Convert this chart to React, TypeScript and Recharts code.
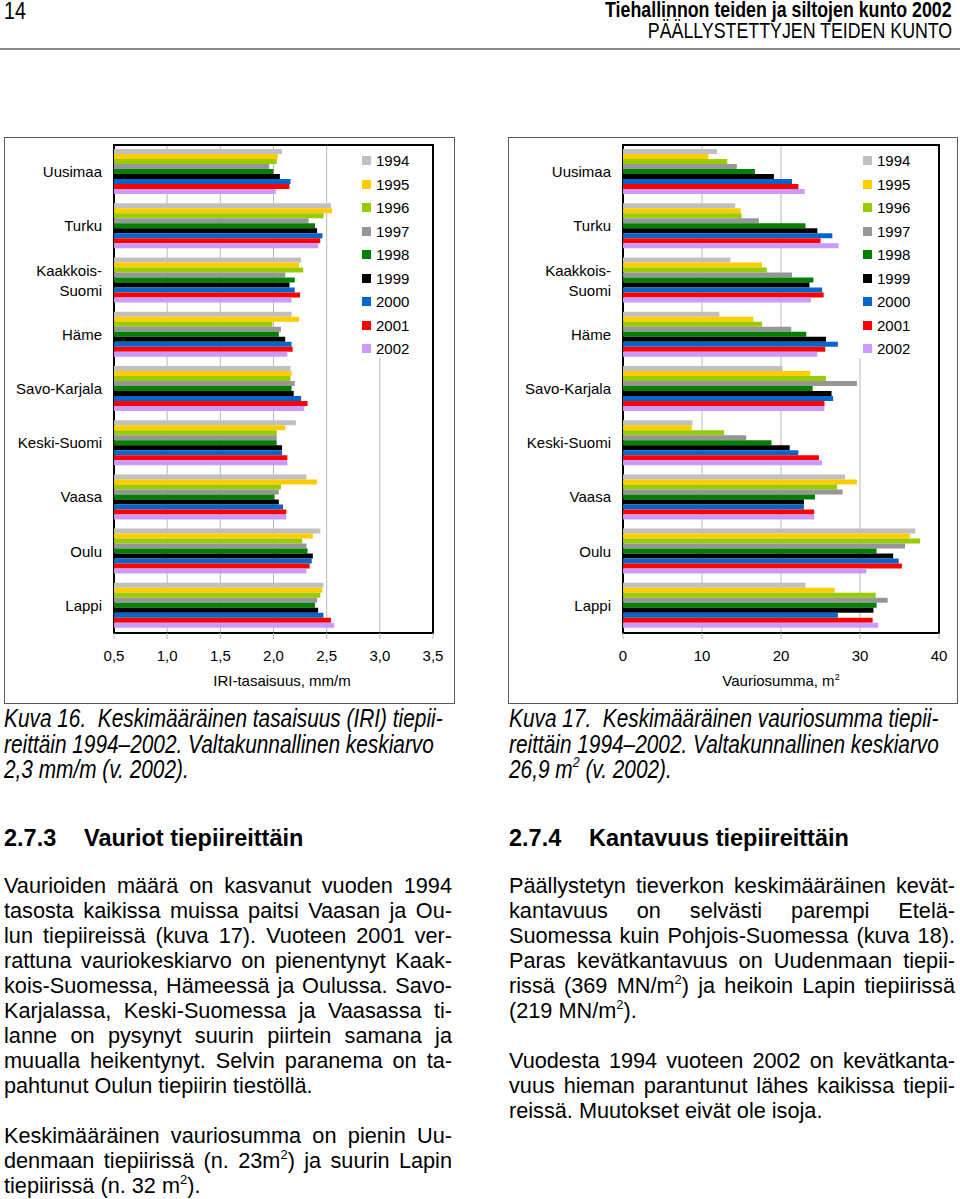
import React from 'react';
import { BarChart, Bar, XAxis, YAxis, CartesianGrid, ReferenceArea, Legend } from 'recharts';

// ---------- data ----------
const districts = ['Uusimaa', 'Turku', 'Kaakkois-\nSuomi', 'Häme', 'Savo-Karjala', 'Keski-Suomi', 'Vaasa', 'Oulu', 'Lappi'];
const years = ['1994', '1995', '1996', '1997', '1998', '1999', '2000', '2001', '2002'];
const yearColors = ['#c0c0c0', '#ffcc00', '#99cc00', '#969696', '#008000', '#000000', '#0066cc', '#ff0000', '#cc99ff'];

// IRI (mm/m), district order as above
const iri1994 = [2.08, 2.54, 2.26, 2.17, 2.16, 2.21, 2.31, 2.44, 2.47];
const iri1995 = [2.04, 2.55, 2.24, 2.24, 2.17, 2.11, 2.41, 2.37, 2.46];
const iri1996 = [2.03, 2.47, 2.28, 1.99, 2.16, 2.03, 2.07, 2.27, 2.44];
const iri1997 = [1.96, 2.33, 2.11, 2.07, 2.20, 2.03, 2.05, 2.31, 2.41];
const iri1998 = [2.00, 2.39, 2.20, 2.05, 2.17, 2.03, 2.01, 2.32, 2.39];
const iri1999 = [2.06, 2.41, 2.15, 2.11, 2.19, 2.08, 2.05, 2.37, 2.42];
const iri2000 = [2.16, 2.46, 2.20, 2.17, 2.26, 2.08, 2.09, 2.36, 2.47];
const iri2001 = [2.15, 2.44, 2.25, 2.18, 2.32, 2.13, 2.12, 2.34, 2.54];
const iri2002 = [2.02, 2.42, 2.17, 2.13, 2.29, 2.13, 2.12, 2.31, 2.57];

// Vauriosumma (m2)
const dmg1994 = [11.9, 14.2, 13.6, 12.2, 20.2, 8.8, 28.1, 37.0, 23.1];
const dmg1995 = [10.8, 14.9, 17.6, 16.5, 23.7, 8.7, 29.6, 36.3, 26.8];
const dmg1996 = [13.2, 15.0, 18.2, 17.6, 25.7, 12.8, 27.1, 37.6, 32.0];
const dmg1997 = [14.4, 17.2, 21.4, 21.3, 29.6, 15.6, 27.8, 35.7, 33.5];
const dmg1998 = [16.7, 23.1, 24.1, 23.2, 24.0, 18.8, 24.3, 32.1, 32.1];
const dmg1999 = [19.1, 24.6, 23.6, 25.7, 26.4, 21.1, 22.9, 34.2, 31.7];
const dmg2000 = [21.4, 26.5, 25.2, 27.2, 26.6, 22.2, 22.9, 34.9, 27.2];
const dmg2001 = [22.2, 25.0, 25.4, 25.6, 25.5, 24.8, 24.2, 35.3, 31.6];
const dmg2002 = [23.0, 27.3, 23.8, 24.6, 25.5, 25.2, 24.2, 30.8, 32.3];

const iriTicks = [0.5, 1.0, 1.5, 2.0, 2.5, 3.0, 3.5];
const dmgTicks = [0, 10, 20, 30, 40];

const iriSeries = [iri1994, iri1995, iri1996, iri1997, iri1998, iri1999, iri2000, iri2001, iri2002];
const dmgSeries = [dmg1994, dmg1995, dmg1996, dmg1997, dmg1998, dmg1999, dmg2000, dmg2001, dmg2002];

function buildRows(series: number[][]) {
  return districts.map((d, i) => {
    const row: Record<string, any> = { district: d };
    years.forEach((y, j) => {
      row['y' + y] = series[j][i];
    });
    return row;
  });
}

const iriRows = buildRows(iriSeries);
const dmgRows = buildRows(dmgSeries);

// ---------- styles ----------
const SANS = "'Liberation Sans', Arial, Helvetica, sans-serif";
const NARROW_SCALE = 0.82;

const CatTick = (props: any) => {
  const { x, y, payload } = props;
  const lines = String(payload.value).split('\n');
  const lh = 20;
  return (
    <text x={x} y={y} textAnchor="end" fontSize={15} fill="#000" fontFamily={SANS}>
      {lines.map((l, i) => (
        <tspan key={i} x={x} dy={i === 0 ? -((lines.length - 1) * lh) / 2 + 5 : lh}>
          {l}
        </tspan>
      ))}
    </text>
  );
};

const LegendBox = (props: any) => {
  const { payload, pad } = props;
  return (
    <div style={{ paddingTop: 3, paddingLeft: pad, fontFamily: SANS, fontSize: 15 }}>
      {(payload || []).map((e: any) => (
        <div key={e.value} style={{ display: 'flex', alignItems: 'center', height: 23.5 }}>
          <span style={{ display: 'inline-block', width: 9, height: 9, background: e.color, marginRight: 5 }} />
          <span>{e.value}</span>
        </div>
      ))}
    </div>
  );
};

type ChartProps = {
  rows: any[];
  ticks: number[];
  domain: [number, number];
  fmt: (v: number) => string;
  left: number;
  width: number;
  yWidth: number;
  rightMargin: number;
  legendLeft: number;
  legendWidth: number;
  legendPad: number;
};

function DistrictChart(p: ChartProps) {
  return (
    <div style={{ position: 'absolute', left: p.left, top: 137, width: p.width, height: 567 }}>
      <BarChart
        width={p.width}
        height={567}
        data={p.rows}
        layout="vertical"
        margin={{ top: 8, right: p.rightMargin, bottom: 41, left: 0 }}
        barCategoryGap="7.5%"
        barGap={0}
      >
        <CartesianGrid horizontal={false} stroke="#b8b8b8" strokeWidth={1} />
        <XAxis
          type="number"
          domain={p.domain}
          ticks={p.ticks}
          interval={0}
          tickFormatter={p.fmt}
          axisLine={false}
          tickLine={{ stroke: '#b8b8b8' }}
          tickSize={6}
          tickMargin={11}
          height={30}
          tick={{ fill: '#000', fontSize: 15, fontFamily: SANS }}
          allowDataOverflow
        />
        <YAxis
          type="category"
          dataKey="district"
          width={p.yWidth}
          axisLine={false}
          tickLine={false}
          tickSize={0}
          tickMargin={12}
          interval={0}
          tick={<CatTick />}
        />
        {years.map((y, j) => (
          <Bar key={y} dataKey={'y' + y} name={y} fill={yearColors[j]} isAnimationActive={false} />
        ))}
        <ReferenceArea
          x1={p.domain[0]}
          x2={p.domain[1]}
          fill="none"
          stroke="#000"
          strokeWidth={2}
          ifOverflow="visible"
        />
        <Legend
          layout="vertical"
          align="center"
          verticalAlign="middle"
          wrapperStyle={{ left: p.legendLeft, top: 9, width: p.legendWidth, height: 212, background: '#fff' }}
          content={(lp: any) => <LegendBox payload={lp.payload} pad={p.legendPad} />}
        />
      </BarChart>
    </div>
  );
}

const Sup = ({ children }: { children: React.ReactNode }) => (
  <sup style={{ fontSize: '0.6em', lineHeight: 0, verticalAlign: '0.7em' }}>{children}</sup>
);

type LineProps = { x: number; y: number; w: number; justify?: boolean; children: React.ReactNode };
const TextLine = ({ x, y, w, justify, children }: LineProps) => (
  <div
    style={{
      position: 'absolute',
      left: x,
      top: y - 12,
      width: w,
      height: 24,
      lineHeight: '24px',
      fontSize: 21.7,
      fontFamily: SANS,
      whiteSpace: 'nowrap',
      textAlign: justify ? 'justify' : 'left',
      textAlignLast: justify ? 'justify' : 'left',
      color: '#000',
    } as React.CSSProperties}
  >
    {children}
  </div>
);

// condensed text (Arial Narrow look) made by horizontal scaling
type NarrowProps = {
  x?: number;
  right?: number;
  top: number;
  size: number;
  lh: number;
  bold?: boolean;
  italic?: boolean;
  children: React.ReactNode;
};
const Narrow = ({ x, right, top, size, lh, bold, italic, children }: NarrowProps) => (
  <div
    style={{
      position: 'absolute',
      left: x,
      right: right,
      top: top,
      height: lh,
      fontSize: size,
      lineHeight: lh + 'px',
      fontFamily: SANS,
      fontWeight: bold ? 'bold' : 'normal',
      fontStyle: italic ? 'italic' : 'normal',
      whiteSpace: 'nowrap',
      transform: `scaleX(${NARROW_SCALE})`,
      transformOrigin: right !== undefined ? 'right top' : 'left top',
      color: '#000',
    }}
  >
    {children}
  </div>
);

const Heading = ({ x, y, num, title }: { x: number; y: number; num: string; title: string }) => (
  <div style={{ position: 'absolute', left: x, top: y - 14, height: 28, lineHeight: '28px', fontSize: 23.5, fontWeight: 'bold', fontFamily: SANS, whiteSpace: 'nowrap' }}>
    <span>{num}</span>
    <span style={{ position: 'absolute', left: 80 }}>{title}</span>
  </div>
);

export default function App() {
  const leftX = 4;
  const rightX = 509;
  const colW = 448;
  const capSize = 25.4;
  return (
    <div style={{ position: 'absolute', left: 0, top: 0, width: 960, height: 1199, background: '#fff', overflow: 'hidden', fontFamily: SANS }}>
      {/* header */}
      <Narrow x={4} top={0} size={24} lh={22}>14</Narrow>
      <Narrow right={8} top={0} size={21.7} lh={20} bold>Tiehallinnon teiden ja siltojen kunto 2002</Narrow>
      <Narrow right={8} top={21} size={21.7} lh={20}>PÄÄLLYSTETTYJEN TEIDEN KUNTO</Narrow>
      <div style={{ position: 'absolute', left: 0, top: 48, width: 960, height: 2, background: '#8a8a8a' }} />

      {/* chart frames */}
      <div style={{ position: 'absolute', left: 4, top: 137, width: 451, height: 567, boxSizing: 'border-box', border: '1px solid #5a5a5a' }} />
      <div style={{ position: 'absolute', left: 508, top: 137, width: 450, height: 567, boxSizing: 'border-box', border: '1px solid #5a5a5a' }} />

      <DistrictChart
        rows={iriRows}
        ticks={iriTicks}
        domain={[0.5, 3.5]}
        fmt={(v: number) => v.toFixed(1).replace('.', ',')}
        left={4}
        width={451}
        yWidth={110}
        rightMargin={22}
        legendLeft={348}
        legendWidth={79}
        legendPad={10}
      />
      <DistrictChart
        rows={dmgRows}
        ticks={dmgTicks}
        domain={[0, 40]}
        fmt={(v: number) => String(v)}
        left={508}
        width={450}
        yWidth={115}
        rightMargin={19}
        legendLeft={346}
        legendWidth={83}
        legendPad={9}
      />

      {/* axis titles */}
      <div style={{ position: 'absolute', left: 132, width: 300, top: 671, textAlign: 'center', fontSize: 15, lineHeight: '20px' }}>
        IRI-tasaisuus, mm/m
      </div>
      <div style={{ position: 'absolute', left: 631, width: 300, top: 671, textAlign: 'center', fontSize: 15, lineHeight: '20px' }}>
        Vauriosumma, m<Sup>2</Sup>
      </div>

      {/* captions */}
      <Narrow x={leftX} top={706} size={capSize} lh={24} italic>Kuva 16.&nbsp; Keskimääräinen tasaisuus (IRI) tiepii-</Narrow>
      <Narrow x={leftX} top={732} size={capSize} lh={24} italic>reittäin 1994–2002. Valtakunnallinen keskiarvo</Narrow>
      <Narrow x={leftX} top={757} size={capSize} lh={24} italic>2,3 mm/m (v. 2002).</Narrow>
      <Narrow x={rightX} top={706} size={capSize} lh={24} italic>Kuva 17.&nbsp; Keskimääräinen vauriosumma tiepii-</Narrow>
      <Narrow x={rightX} top={732} size={capSize} lh={24} italic>reittäin 1994–2002. Valtakunnallinen keskiarvo</Narrow>
      <Narrow x={rightX} top={757} size={capSize} lh={24} italic>26,9 m<Sup>2</Sup> (v. 2002).</Narrow>

      {/* headings */}
      <Heading x={leftX} y={838} num="2.7.3" title="Vauriot tiepiireittäin" />
      <Heading x={rightX} y={838} num="2.7.4" title="Kantavuus tiepiireittäin" />

      {/* left column text */}
      <TextLine x={leftX} y={886} w={colW} justify>Vaurioiden määrä on kasvanut vuoden 1994</TextLine>
      <TextLine x={leftX} y={911} w={colW} justify>tasosta kaikissa muissa paitsi Vaasan ja Ou-</TextLine>
      <TextLine x={leftX} y={936} w={colW} justify>lun tiepiireissä (kuva 17). Vuoteen 2001 ver-</TextLine>
      <TextLine x={leftX} y={961} w={colW} justify>rattuna vauriokeskiarvo on pienentynyt Kaak-</TextLine>
      <TextLine x={leftX} y={986} w={colW} justify>kois-Suomessa, Hämeessä ja Oulussa. Savo-</TextLine>
      <TextLine x={leftX} y={1011} w={colW} justify>Karjalassa, Keski-Suomessa ja Vaasassa ti-</TextLine>
      <TextLine x={leftX} y={1036} w={colW} justify>lanne on pysynyt suurin piirtein samana ja</TextLine>
      <TextLine x={leftX} y={1061} w={colW} justify>muualla heikentynyt. Selvin paranema on ta-</TextLine>
      <TextLine x={leftX} y={1086} w={colW}>pahtunut Oulun tiepiirin tiestöllä.</TextLine>
      <TextLine x={leftX} y={1136} w={colW} justify>Keskimääräinen vauriosumma on pienin Uu-</TextLine>
      <TextLine x={leftX} y={1161} w={colW} justify>denmaan tiepiirissä (n. 23m<Sup>2</Sup>) ja suurin Lapin</TextLine>
      <TextLine x={leftX} y={1186} w={colW}>tiepiirissä (n. 32 m<Sup>2</Sup>).</TextLine>

      {/* right column text */}
      <TextLine x={rightX} y={886} w={colW - 2} justify>Päällystetyn tieverkon keskimääräinen kevät-</TextLine>
      <TextLine x={rightX} y={911} w={colW - 2} justify>kantavuus on selvästi parempi Etelä-</TextLine>
      <TextLine x={rightX} y={936} w={colW - 2} justify>Suomessa kuin Pohjois-Suomessa (kuva 18).</TextLine>
      <TextLine x={rightX} y={961} w={colW - 2} justify>Paras kevätkantavuus on Uudenmaan tiepii-</TextLine>
      <TextLine x={rightX} y={986} w={colW - 2} justify>rissä (369 MN/m<Sup>2</Sup>) ja heikoin Lapin tiepiirissä</TextLine>
      <TextLine x={rightX} y={1011} w={colW - 2}>(219 MN/m<Sup>2</Sup>).</TextLine>
      <TextLine x={rightX} y={1061} w={colW - 2} justify>Vuodesta 1994 vuoteen 2002 on kevätkanta-</TextLine>
      <TextLine x={rightX} y={1086} w={colW - 2} justify>vuus hieman parantunut lähes kaikissa tiepii-</TextLine>
      <TextLine x={rightX} y={1111} w={colW - 2}>reissä. Muutokset eivät ole isoja.</TextLine>
    </div>
  );
}
